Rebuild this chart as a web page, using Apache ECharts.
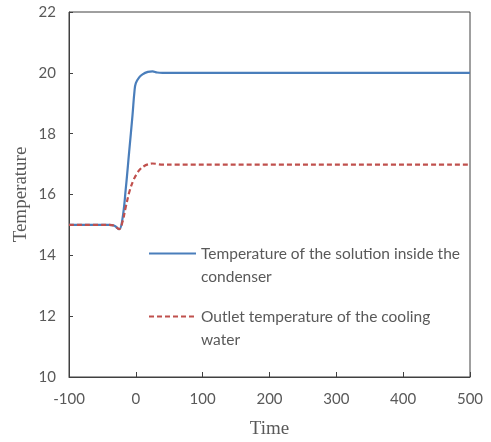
<!DOCTYPE html>
<html>
<head>
<meta charset="utf-8">
<script src="https://cdn.jsdelivr.net/npm/echarts@6/dist/echarts.min.js"></script>
<style>
  html, body { margin: 0; padding: 0; background: #fff; }
  #chart { width: 491px; height: 442px; }
</style>
</head>
<body>
<div id="chart"></div>
<script>
// time points
const solutionTime = [-100, -40, -32, -25, -20, -15, -10, -5, -2, 0, 5, 10, 18, 25, 32, 40, 60, 500]
const solutionTemp = [15, 15, 14.97, 14.86, 15.2, 16.2, 17.4, 18.6, 19.4, 19.66, 19.85, 19.95, 20.03, 20.05, 20.01, 20.0, 20.0, 20.0]

const waterTime = [-100, -40, -32, -25, -20, -15, -9, -3, 2, 6, 12, 18, 25, 32, 40, 60, 500]
const waterTemp = [15, 15, 14.97, 14.86, 15.1, 15.6, 16.14, 16.5, 16.7, 16.82, 16.93, 16.99, 17.02, 17.0, 16.98, 16.98, 16.98]

const seriesNames = [
  'Temperature of the solution inside the\ncondenser',
  'Outlet temperature of the cooling\nwater'
]

const xMin = -100, xMax = 500, xStep = 100
const yMin = 10, yMax = 22, yStep = 2

const pair = (xs, ys) => xs.map((x, i) => [x, ys[i]])

const chart = echarts.init(document.getElementById('chart'))

const axisColor = '#404040'
const labelColor = '#595959'

const option = {
  animation: false,
  grid: {
    left: 69, right: 21, top: 12, bottom: 65,
    outerBoundsMode: 'none',
    show: true, borderColor: axisColor, borderWidth: 1
  },
  legend: {
    orient: 'vertical',
    left: 148,
    top: 219,
    padding: 0,
    itemWidth: 47,
    itemHeight: 10,
    itemGap: -6,
    data: seriesNames,
    itemStyle: { opacity: 0 },
    lineStyle: { opacity: 1 },
    // leading blank line keeps the legend line level with the first text line
    formatter: name => '\n' + name,
    textStyle: {
      fontFamily: 'Lato', fontSize: 15.5, color: labelColor,
      lineHeight: 23
    }
  },
  xAxis: {
    type: 'value',
    min: xMin, max: xMax, interval: xStep,
    name: 'Time',
    nameLocation: 'middle',
    nameGap: 43,
    nameMoveOverlap: false,
    nameTextStyle: { fontFamily: 'Liberation Serif', fontSize: 19, color: labelColor },
    axisLine: { onZero: false, lineStyle: { color: axisColor, width: 1 } },
    axisTick: { inside: true, length: 5, lineStyle: { color: axisColor } },
    axisLabel: { fontFamily: 'Lato', fontSize: 15, color: labelColor, margin: 15 },
    splitLine: { show: false }
  },
  yAxis: {
    type: 'value',
    min: yMin, max: yMax, interval: yStep,
    name: 'Temperature',
    nameLocation: 'middle',
    nameGap: 38,
    nameMoveOverlap: false,
    nameTextStyle: { fontFamily: 'Liberation Serif', fontSize: 19, color: labelColor },
    axisLine: { show: true, onZero: false, lineStyle: { color: axisColor, width: 1 } },
    axisTick: { show: true, inside: true, length: 4, lineStyle: { color: axisColor } },
    axisLabel: { fontFamily: 'Lato', fontSize: 15, color: labelColor, margin: 13 },
    splitLine: { show: false }
  },
  series: [
    {
      name: seriesNames[0],
      type: 'line',
      smooth: 0.4,
      symbol: 'none',
      data: pair(solutionTime, solutionTemp),
      lineStyle: { color: '#4A7EBB', width: 2.2 },
      itemStyle: { color: '#4A7EBB' },
      z: 2
    },
    {
      name: seriesNames[1],
      type: 'line',
      smooth: 0.4,
      symbol: 'none',
      data: pair(waterTime, waterTemp),
      lineStyle: { color: '#C0504D', width: 2.2, type: [5, 3] },
      itemStyle: { color: '#C0504D' },
      z: 3
    }
  ]
}

chart.setOption(option)
</script>
</body>
</html>
